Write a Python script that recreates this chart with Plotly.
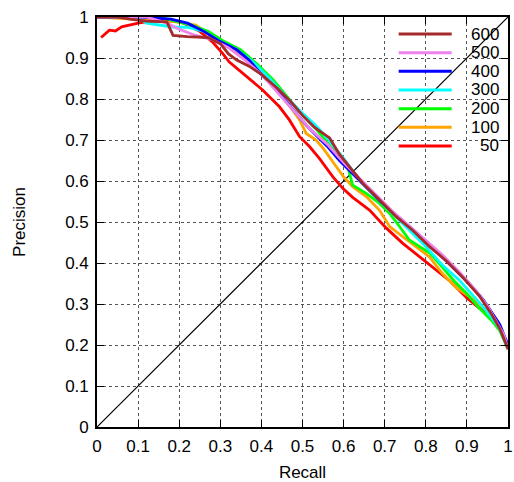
import plotly.graph_objects as go

# ---- data ----
r_600 = [0, 0.05, 0.08, 0.12, 0.17, 0.185, 0.22, 0.27, 0.30, 0.32, 0.34, 0.37, 0.40, 0.44, 0.47, 0.50, 0.53, 0.566, 0.59, 0.614, 0.647, 0.687, 0.728, 0.768, 0.809, 0.85, 0.89, 0.93, 0.96, 0.98, 1.0]
p_600 = [1, 1, 0.995, 0.99, 0.988, 0.955, 0.952, 0.95, 0.935, 0.91, 0.895, 0.88, 0.86, 0.825, 0.795, 0.76, 0.73, 0.705, 0.665, 0.635, 0.594, 0.554, 0.513, 0.48, 0.44, 0.405, 0.365, 0.32, 0.275, 0.24, 0.19]

r_500 = [0, 0.12, 0.17, 0.2, 0.24, 0.28, 0.32, 0.36, 0.40, 0.44, 0.48, 0.52, 0.56, 0.60, 0.64, 0.68, 0.72, 0.76, 0.80, 0.84, 0.88, 0.92, 0.95, 0.97, 0.99, 1.0]
p_500 = [1, 1, 0.985, 0.97, 0.955, 0.945, 0.925, 0.895, 0.86, 0.815, 0.77, 0.725, 0.69, 0.645, 0.605, 0.565, 0.525, 0.49, 0.455, 0.42, 0.38, 0.335, 0.295, 0.26, 0.225, 0.19]

r_400 = [0, 0.1, 0.18, 0.22, 0.26, 0.3, 0.34, 0.37, 0.40, 0.43, 0.46, 0.485, 0.51, 0.535, 0.56, 0.59, 0.62, 0.65, 0.69, 0.73, 0.77, 0.81, 0.85, 0.88, 0.91, 0.94, 0.96, 0.98, 1.0]
p_400 = [1, 1, 0.995, 0.985, 0.965, 0.94, 0.92, 0.895, 0.86, 0.83, 0.795, 0.765, 0.735, 0.71, 0.685, 0.65, 0.62, 0.59, 0.55, 0.515, 0.48, 0.445, 0.405, 0.375, 0.345, 0.31, 0.28, 0.25, 0.20]

r_300 = [0, 0.1, 0.12, 0.15, 0.19, 0.22, 0.26, 0.3, 0.34, 0.38, 0.42, 0.46, 0.50, 0.53, 0.56, 0.60, 0.64, 0.68, 0.72, 0.76, 0.80, 0.84, 0.88, 0.92, 0.95, 0.98, 1.0]
p_300 = [1, 1, 0.985, 0.98, 0.975, 0.975, 0.965, 0.94, 0.92, 0.89, 0.85, 0.805, 0.765, 0.738, 0.705, 0.655, 0.60, 0.56, 0.52, 0.48, 0.44, 0.395, 0.36, 0.315, 0.28, 0.24, 0.19]

r_200 = [0, 0.15, 0.19, 0.23, 0.27, 0.31, 0.35, 0.39, 0.43, 0.47, 0.50, 0.53, 0.56, 0.59, 0.61, 0.622, 0.655, 0.687, 0.712, 0.736, 0.76, 0.785, 0.81, 0.84, 0.87, 0.9, 0.93, 0.96, 0.98, 1.0]
p_200 = [1, 1, 0.99, 0.98, 0.965, 0.94, 0.92, 0.885, 0.845, 0.795, 0.76, 0.73, 0.695, 0.66, 0.635, 0.59, 0.57, 0.546, 0.521, 0.489, 0.456, 0.44, 0.424, 0.39, 0.355, 0.325, 0.29, 0.26, 0.235, 0.19]

r_100 = [0, 0.18, 0.21, 0.24, 0.27, 0.3, 0.34, 0.38, 0.42, 0.45, 0.476, 0.493, 0.509, 0.533, 0.55, 0.575, 0.60, 0.622, 0.655, 0.687, 0.712, 0.744, 0.785, 0.809, 0.84, 0.874, 0.906, 0.93, 0.955, 0.98, 1.0]
p_100 = [1, 0.99, 0.985, 0.98, 0.96, 0.94, 0.915, 0.88, 0.84, 0.805, 0.773, 0.749, 0.716, 0.70, 0.68, 0.645, 0.61, 0.586, 0.562, 0.529, 0.489, 0.464, 0.432, 0.415, 0.375, 0.34, 0.318, 0.30, 0.278, 0.24, 0.19]

r_50 = [0.01, 0.03, 0.045, 0.06, 0.1, 0.13, 0.2, 0.25, 0.28, 0.305, 0.322, 0.34, 0.363, 0.403, 0.444, 0.468, 0.493, 0.517, 0.541, 0.574, 0.598, 0.622, 0.663, 0.704, 0.744, 0.785, 0.82, 0.86, 0.9, 0.93, 0.955, 0.979, 1.0]
p_50 = [0.95, 0.968, 0.966, 0.976, 0.985, 0.99, 0.99, 0.965, 0.94, 0.912, 0.89, 0.875, 0.854, 0.822, 0.781, 0.749, 0.708, 0.684, 0.655, 0.61, 0.582, 0.56, 0.529, 0.485, 0.448, 0.415, 0.385, 0.355, 0.315, 0.29, 0.278, 0.244, 0.19]

diag = [0, 1]

series_names = ["600", "500", "400", "300", "200", "100", "50"]
series_r = [r_600, r_500, r_400, r_300, r_200, r_100, r_50]
series_p = [p_600, p_500, p_400, p_300, p_200, p_100, p_50]
series_colors = ["#A52A2A", "#EE82EE", "#0000FF", "#00FFFF", "#00FF00", "#FFA500", "#FF0000"]

tick_vals = [0, 0.1, 0.2, 0.3, 0.4, 0.5, 0.6, 0.7, 0.8, 0.9, 1]
tick_text = ["0", "0.1", "0.2", "0.3", "0.4", "0.5", "0.6", "0.7", "0.8", "0.9", "1"]

FONT = "Liberation Sans, Arial, Helvetica, sans-serif"

fig = go.Figure()

fig.add_trace(go.Scatter(x=diag, y=diag, mode="lines",
                         line=dict(color="black", width=1.2),
                         showlegend=False, hoverinfo="skip"))

# draw 50 first so 600 ends on top
for name, xs, ys, col in reversed(list(zip(series_names, series_r, series_p, series_colors))):
    fig.add_trace(go.Scatter(x=xs, y=ys, mode="lines", name=name,
                             line=dict(color=col, width=2.8), showlegend=False))

# gnuplot-style key, top right inside the plot, labels right-aligned
key_top = 0.9585
key_step = 0.0455
for i, (name, col) in enumerate(zip(series_names, series_colors)):
    yy = key_top - i * key_step
    fig.add_shape(type="line", xref="paper", yref="paper",
                  x0=0.734, x1=0.863, y0=yy, y1=yy,
                  line=dict(color=col, width=3))
    fig.add_annotation(xref="paper", yref="paper", x=0.982, y=yy,
                       text=name, showarrow=False, xanchor="right", yanchor="middle",
                       font=dict(size=17, color="black", family=FONT))

axis_common = dict(
    range=[0, 1], tickvals=tick_vals, ticktext=tick_text,
    ticks="inside", ticklen=7, tickwidth=1.2, tickcolor="black",
    showline=True, linecolor="black", linewidth=1.6, mirror="ticks",
    showgrid=True, gridcolor="#555555", gridwidth=1, griddash="dot",
    zeroline=False, automargin=False,
    tickfont=dict(size=17, color="black", family=FONT),
    title_font=dict(size=17, color="black", family=FONT),
)

fig.update_xaxes(**axis_common, title_text="Recall", title_standoff=11, ticklabelstandoff=3)
fig.update_yaxes(**axis_common, title_text="Precision", title_standoff=35, ticklabelstandoff=3)

fig.update_layout(
    width=514, height=482,
    margin=dict(l=97, r=6, t=17, b=55),
    paper_bgcolor="white", plot_bgcolor="white",
    font=dict(family=FONT, size=17, color="black"),
    showlegend=False,
)

fig.write_html("out.html", config={"displayModeBar": False},
               post_script="document.body.style.margin='0';document.body.style.overflow='hidden';")
